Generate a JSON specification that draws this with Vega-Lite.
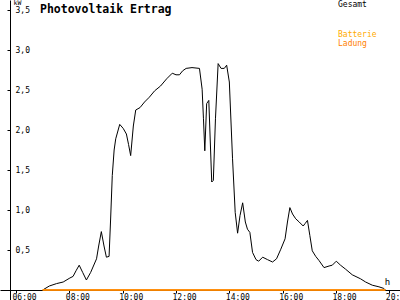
{
  "$schema": "https://vega.github.io/schema/vega-lite/v6.json",
  "width": 400,
  "height": 300,
  "autosize": {"type": "none"},
  "padding": 0,
  "background": "white",
  "config": {"view": {"stroke": null}, "font": "DejaVu Sans Mono"},
  "title": {"text": "Photovoltaik Ertrag", "anchor": "start", "frame": "group", "orient": "top", "offset": -16, "baseline": "top", "dx": 40, "font": "DejaVu Sans Mono", "fontSize": 11.5, "fontWeight": "bold", "color": "black"},
  "datasets": {
    "gesamt": [
      {"series": "Gesamt", "h": 7.00, "kW": 0.00},
      {"series": "Gesamt", "h": 7.25, "kW": 0.05},
      {"series": "Gesamt", "h": 7.52, "kW": 0.08},
      {"series": "Gesamt", "h": 7.77, "kW": 0.10},
      {"series": "Gesamt", "h": 8.02, "kW": 0.15},
      {"series": "Gesamt", "h": 8.14, "kW": 0.17},
      {"series": "Gesamt", "h": 8.25, "kW": 0.24},
      {"series": "Gesamt", "h": 8.37, "kW": 0.31},
      {"series": "Gesamt", "h": 8.50, "kW": 0.22},
      {"series": "Gesamt", "h": 8.64, "kW": 0.125},
      {"series": "Gesamt", "h": 8.80, "kW": 0.22},
      {"series": "Gesamt", "h": 9.02, "kW": 0.39},
      {"series": "Gesamt", "h": 9.10, "kW": 0.55},
      {"series": "Gesamt", "h": 9.20, "kW": 0.73},
      {"series": "Gesamt", "h": 9.30, "kW": 0.55},
      {"series": "Gesamt", "h": 9.39, "kW": 0.41},
      {"series": "Gesamt", "h": 9.49, "kW": 0.42},
      {"series": "Gesamt", "h": 9.55, "kW": 0.90},
      {"series": "Gesamt", "h": 9.61, "kW": 1.43},
      {"series": "Gesamt", "h": 9.68, "kW": 1.75},
      {"series": "Gesamt", "h": 9.74, "kW": 1.89},
      {"series": "Gesamt", "h": 9.89, "kW": 2.07},
      {"series": "Gesamt", "h": 10.02, "kW": 2.02},
      {"series": "Gesamt", "h": 10.14, "kW": 1.95},
      {"series": "Gesamt", "h": 10.22, "kW": 1.82},
      {"series": "Gesamt", "h": 10.30, "kW": 1.68},
      {"series": "Gesamt", "h": 10.40, "kW": 2.05},
      {"series": "Gesamt", "h": 10.49, "kW": 2.25},
      {"series": "Gesamt", "h": 10.65, "kW": 2.28},
      {"series": "Gesamt", "h": 10.82, "kW": 2.35},
      {"series": "Gesamt", "h": 11.00, "kW": 2.41},
      {"series": "Gesamt", "h": 11.20, "kW": 2.49},
      {"series": "Gesamt", "h": 11.42, "kW": 2.55},
      {"series": "Gesamt", "h": 11.65, "kW": 2.64},
      {"series": "Gesamt", "h": 11.86, "kW": 2.71},
      {"series": "Gesamt", "h": 12.00, "kW": 2.69},
      {"series": "Gesamt", "h": 12.13, "kW": 2.69},
      {"series": "Gesamt", "h": 12.25, "kW": 2.74},
      {"series": "Gesamt", "h": 12.38, "kW": 2.77},
      {"series": "Gesamt", "h": 12.60, "kW": 2.78},
      {"series": "Gesamt", "h": 12.88, "kW": 2.77},
      {"series": "Gesamt", "h": 12.98, "kW": 2.51},
      {"series": "Gesamt", "h": 13.03, "kW": 2.14},
      {"series": "Gesamt", "h": 13.08, "kW": 1.74},
      {"series": "Gesamt", "h": 13.15, "kW": 2.33},
      {"series": "Gesamt", "h": 13.23, "kW": 2.37},
      {"series": "Gesamt", "h": 13.34, "kW": 1.35},
      {"series": "Gesamt", "h": 13.40, "kW": 1.37},
      {"series": "Gesamt", "h": 13.48, "kW": 2.14},
      {"series": "Gesamt", "h": 13.58, "kW": 2.83},
      {"series": "Gesamt", "h": 13.69, "kW": 2.77},
      {"series": "Gesamt", "h": 13.81, "kW": 2.77},
      {"series": "Gesamt", "h": 13.90, "kW": 2.81},
      {"series": "Gesamt", "h": 14.00, "kW": 2.60},
      {"series": "Gesamt", "h": 14.12, "kW": 1.64},
      {"series": "Gesamt", "h": 14.22, "kW": 0.97},
      {"series": "Gesamt", "h": 14.31, "kW": 0.71},
      {"series": "Gesamt", "h": 14.40, "kW": 0.93},
      {"series": "Gesamt", "h": 14.50, "kW": 1.09},
      {"series": "Gesamt", "h": 14.60, "kW": 0.85},
      {"series": "Gesamt", "h": 14.68, "kW": 0.76},
      {"series": "Gesamt", "h": 14.77, "kW": 0.72},
      {"series": "Gesamt", "h": 14.87, "kW": 0.47},
      {"series": "Gesamt", "h": 15.00, "kW": 0.38},
      {"series": "Gesamt", "h": 15.10, "kW": 0.36},
      {"series": "Gesamt", "h": 15.25, "kW": 0.41},
      {"series": "Gesamt", "h": 15.43, "kW": 0.38},
      {"series": "Gesamt", "h": 15.62, "kW": 0.35},
      {"series": "Gesamt", "h": 15.77, "kW": 0.39},
      {"series": "Gesamt", "h": 15.93, "kW": 0.51},
      {"series": "Gesamt", "h": 16.09, "kW": 0.64},
      {"series": "Gesamt", "h": 16.18, "kW": 0.85},
      {"series": "Gesamt", "h": 16.27, "kW": 1.03},
      {"series": "Gesamt", "h": 16.37, "kW": 0.95},
      {"series": "Gesamt", "h": 16.49, "kW": 0.89},
      {"series": "Gesamt", "h": 16.62, "kW": 0.85},
      {"series": "Gesamt", "h": 16.77, "kW": 0.80},
      {"series": "Gesamt", "h": 16.84, "kW": 0.83},
      {"series": "Gesamt", "h": 16.93, "kW": 0.87},
      {"series": "Gesamt", "h": 17.02, "kW": 0.68},
      {"series": "Gesamt", "h": 17.11, "kW": 0.49},
      {"series": "Gesamt", "h": 17.24, "kW": 0.42},
      {"series": "Gesamt", "h": 17.36, "kW": 0.37},
      {"series": "Gesamt", "h": 17.55, "kW": 0.28},
      {"series": "Gesamt", "h": 17.74, "kW": 0.30},
      {"series": "Gesamt", "h": 17.86, "kW": 0.31},
      {"series": "Gesamt", "h": 18.01, "kW": 0.36},
      {"series": "Gesamt", "h": 18.17, "kW": 0.31},
      {"series": "Gesamt", "h": 18.36, "kW": 0.26},
      {"series": "Gesamt", "h": 18.61, "kW": 0.19},
      {"series": "Gesamt", "h": 18.92, "kW": 0.14},
      {"series": "Gesamt", "h": 19.11, "kW": 0.10},
      {"series": "Gesamt", "h": 19.36, "kW": 0.06},
      {"series": "Gesamt", "h": 19.61, "kW": 0.04},
      {"series": "Gesamt", "h": 19.79, "kW": 0.02},
      {"series": "Gesamt", "h": 19.85, "kW": 0.00}
    ],
    "batterie": [
      {"series": "Batterie", "h": 7.00, "kW": 0},
      {"series": "Batterie", "h": 19.85, "kW": 0},
      {"series": "Ladung", "h": 7.00, "kW": 0},
      {"series": "Ladung", "h": 19.85, "kW": 0}
    ]
  },
  "encoding": {
    "x": {
      "field": "h", "type": "quantitative",
      "scale": {"domain": [5.4, 20.4], "nice": false, "zero": false},
      "axis": {
        "orient": "bottom", "offset": -10, "values": [6, 8, 10, 12, 14, 16, 18, 20],
        "labelExpr": "(datum.value < 10 ? '0' : '') + datum.value + ':00'",
        "grid": false, "tickSize": 3, "tickColor": "black", "domainColor": "black",
        "labelAlign": "left", "labelOffset": -4, "labelBaseline": "top", "labelPadding": 0,
        "labelFontSize": 8, "labelColor": "black", "labelFont": "DejaVu Sans Mono",
        "labelFlush": false, "labelOverlap": false, "labelBound": false,
        "title": "h", "titleX": 387, "titleY": -4, "titleBaseline": "bottom", "titleAlign": "center",
        "titleFontSize": 9, "titleFontWeight": "normal", "titleColor": "black", "titleFont": "DejaVu Sans Mono"
      }
    },
    "y": {
      "field": "kW", "type": "quantitative",
      "scale": {"domain": [-0.125, 3.625], "nice": false, "zero": false},
      "axis": {
        "orient": "left", "offset": -10, "values": [0.5, 1, 1.5, 2, 2.5, 3, 3.5],
        "labelExpr": "replace(format(datum.value, '.1f'), '.', ',')",
        "grid": false, "tickSize": 3, "tickColor": "black", "domainColor": "black",
        "labelAlign": "left", "labelPadding": -8, "labelBaseline": "middle",
        "labelFontSize": 8, "labelColor": "black", "labelFont": "DejaVu Sans Mono",
        "labelFlush": false, "labelOverlap": false, "labelBound": false,
        "title": "kW", "titleAngle": 0, "titleX": 3, "titleY": -1, "titleAlign": "left", "titleBaseline": "top",
        "titleFontSize": 6.5, "titleFontWeight": "normal", "titleColor": "black", "titleFont": "DejaVu Sans Mono"
      }
    }
  },
  "layer": [
    {
      "data": {"name": "gesamt"},
      "mark": {"type": "line", "strokeWidth": 1},
      "encoding": {
        "color": {
          "field": "series", "type": "nominal",
          "scale": {"domain": ["Gesamt"], "range": ["black"]},
          "legend": {"orient": "none", "legendX": 330, "legendY": 1, "title": null, "padding": 0,
            "symbolSize": 0, "symbolOpacity": 0, "symbolStrokeWidth": 0, "labelOffset": 0,
            "labelFontSize": 8, "labelColor": "black", "labelFont": "DejaVu Sans Mono"}
        }
      }
    },
    {
      "data": {"name": "batterie"},
      "mark": {"type": "line", "strokeWidth": 1.5},
      "encoding": {
        "color": {
          "field": "series", "type": "nominal",
          "scale": {"domain": ["Batterie", "Ladung"], "range": ["#ffaa00", "#ff8000"]},
          "legend": {"orient": "none", "legendX": 330, "legendY": 31, "title": null, "padding": 0,
            "symbolSize": 0, "symbolOpacity": 0, "symbolStrokeWidth": 0, "labelOffset": 0, "rowPadding": 1,
            "labelFontSize": 8, "labelFont": "DejaVu Sans Mono",
            "labelColor": {"expr": "datum.label == 'Batterie' ? '#ffaa00' : '#ff8000'"}}
        }
      }
    },
    {
      "data": {"values": [{}]},
      "mark": {"type": "point", "shape": "M -1 -1 L 0 0 L -1 1", "filled": false, "stroke": "black", "strokeWidth": 1, "size": 36, "opacity": 1},
      "encoding": {"x": {"datum": 20.33, "type": "quantitative"}, "y": {"datum": 0, "type": "quantitative"}}
    },
    {
      "data": {"values": [{}]},
      "mark": {"type": "point", "shape": "M -1 1 L 0 0 L 1 1", "filled": false, "stroke": "black", "strokeWidth": 1, "size": 36, "opacity": 1},
      "encoding": {"x": {"datum": 5.775, "type": "quantitative"}, "y": {"datum": 3.6, "type": "quantitative"}}
    }
  ],
  "resolve": {"scale": {"color": "independent"}, "legend": {"color": "independent"}}
}
